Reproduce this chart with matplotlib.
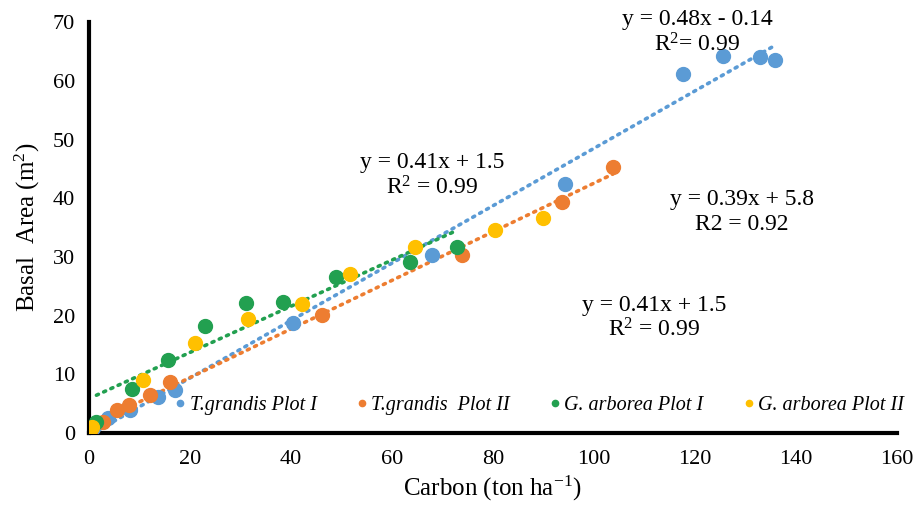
import numpy as np
import matplotlib.pyplot as plt

plt.rcParams['font.family'] = 'Liberation Serif'
plt.rcParams['mathtext.fontset'] = 'custom'
plt.rcParams['mathtext.rm'] = 'Liberation Serif'
plt.rcParams['mathtext.it'] = 'Liberation Serif:italic'

# T. grandis Plot I
tg1_x = [0.8, 3.8, 8.1, 13.7, 17.0, 40.4, 67.9, 94.3, 117.6, 125.5, 132.9, 135.8]
tg1_y = [0.9, 2.6, 3.9, 6.1, 7.3, 18.8, 30.4, 42.4, 61.2, 64.3, 64.0, 63.6]
# T. grandis Plot II
tg2_x = [0.2, 2.8, 5.5, 7.9, 12.1, 16.0, 46.1, 73.9, 93.7, 103.8]
tg2_y = [0.2, 1.9, 3.9, 4.8, 6.5, 8.7, 20.1, 30.4, 39.4, 45.4]
# G. arborea Plot I
ga1_x = [1.5, 8.5, 15.6, 23.1, 31.2, 38.5, 48.9, 63.6, 73.0]
ga1_y = [1.9, 7.5, 12.5, 18.3, 22.1, 22.3, 26.6, 29.2, 31.7]
# G. arborea Plot II
ga2_x = [0.6, 10.7, 21.0, 31.5, 42.2, 51.7, 64.6, 80.4, 89.9]
ga2_y = [1.0, 9.0, 15.3, 19.4, 22.0, 27.1, 31.7, 34.6, 36.7]

labels = ['T.grandis Plot I', 'T.grandis  Plot II', 'G. arborea Plot I', 'G. arborea Plot II']
colors = ['#5B9BD5', '#ED7D31', '#22A050', '#FFC000']

equations = [('y = 0.48x - 0.14', 'R$^2$= 0.99', 120.5, 70.5),
             ('y = 0.41x + 1.5', 'R$^2$ = 0.99', 68, 46.1),
             ('y = 0.39x + 5.8', 'R2 = 0.92', 129.3, 39.8),
             ('y = 0.41x + 1.5', 'R$^2$ = 0.99', 112, 21.8)]

fig = plt.figure(figsize=(9.16, 5.16), dpi=100)
ax = fig.add_axes([0.097, 0.161, 0.882, 0.796])

series = [(tg1_x, tg1_y), (tg2_x, tg2_y), (ga1_x, ga1_y), (ga2_x, ga2_y)]
handles = []
for (x, y), c, lab in zip(series, colors, labels):
    h, = ax.plot(x, y, 'o', color=c, ms=10, label=lab, zorder=3)
    handles.append(h)
# linear trendlines, only the three that show in the figure
for (x, y), c in zip(series[:3], colors[:3]):
    k, b = np.polyfit(x, y, 1)
    xs = np.array([min(x), max(x)])
    ax.plot(xs, k * xs + b, color=c, lw=2.6, linestyle=(0, (0.6, 1.6)),
            dash_capstyle='round', zorder=2)

for eq, r2, tx, ty in equations:
    ax.text(tx, ty, eq, ha='center', va='center', fontsize=17)
    ax.text(tx, ty - 4.3, r2, ha='center', va='center', fontsize=17)

ax.set_xlim(0, 160)
ax.set_ylim(0, 70)
ax.set_xticks(range(0, 161, 20))
ax.set_yticks(range(0, 71, 10))
ax.tick_params(length=0, labelsize=16, pad=12)
ax.tick_params(axis='y', pad=10)
for s in ['top', 'right']:
    ax.spines[s].set_visible(False)
for s in ['left', 'bottom']:
    ax.spines[s].set_linewidth(3)
ax.set_xlabel('Carbon (ton ha$^{-1}$)', fontsize=18, labelpad=4)
ax.set_ylabel('Basal  Area (m$^2$)', fontsize=18, labelpad=8)

leg = ax.legend(handles=handles, loc='lower right', bbox_to_anchor=(1.031, 0.0), ncol=4,
                frameon=False, markerscale=0.45, handlelength=0.5, handletextpad=0.2,
                columnspacing=2.0, prop={'style': 'italic', 'size': 14.5})

fig.savefig('out.png', dpi=100)
